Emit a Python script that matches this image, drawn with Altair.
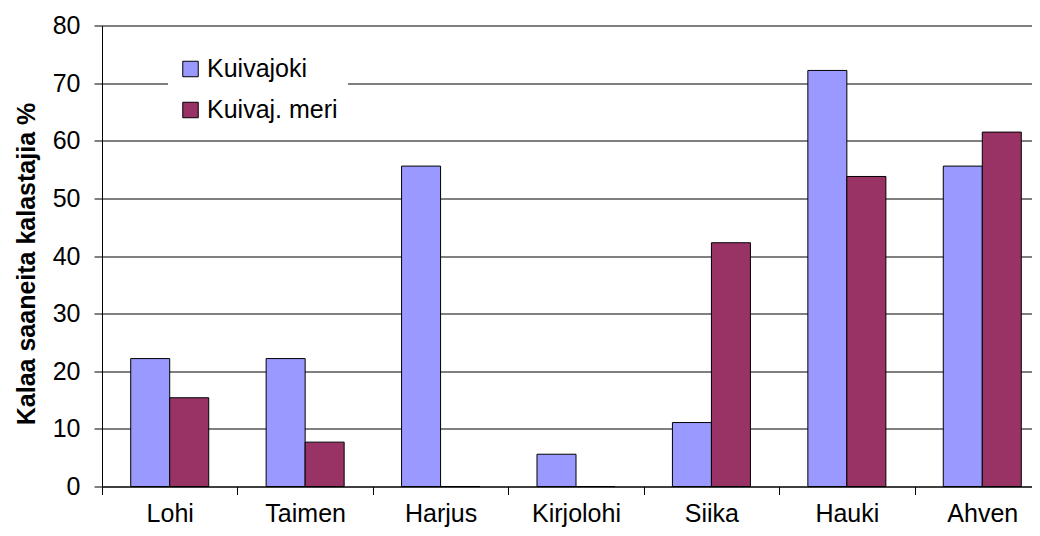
import altair as alt
import pandas as pd

categories = ["Lohi", "Taimen", "Harjus", "Kirjolohi", "Siika", "Hauki", "Ahven"]
series = ["Kuivajoki", "Kuivaj. meri"]
kuivajoki = [22.2, 22.2, 55.6, 5.6, 11.1, 72.2, 55.6]
kuivaj_meri = [15.4, 7.7, 0.0, 0.0, 42.3, 53.8, 61.5]
colors = ["#9999FF", "#993366"]
y_ticks = [0, 10, 20, 30, 40, 50, 60, 70, 80]

rows = []
for i, c in enumerate(categories):
    rows.append({"laji": c, "sarja": series[0], "arvo": kuivajoki[i]})
    rows.append({"laji": c, "sarja": series[1], "arvo": kuivaj_meri[i]})
df = pd.DataFrame(rows)

FONT = "Liberation Sans"

chart = alt.Chart(df).mark_bar(stroke="black", strokeWidth=1).encode(
    x=alt.X(
        "laji:N", sort=categories, title=None,
        scale=alt.Scale(paddingInner=0, paddingOuter=0, range=[0, 948]),
        axis=alt.Axis(
            tickBand="extent", labelAngle=0, labelFontSize=25, labelFont=FONT,
            labelColor="black", labelPadding=7, tickSize=8, tickColor="black",
            tickWidth=1, domainColor="black", domainWidth=1, grid=False,
        ),
    ),
    xOffset=alt.XOffset(
        "sarja:N", sort=series,
        scale=alt.Scale(paddingInner=0, paddingOuter=0.736),
    ),
    y=alt.Y(
        "arvo:Q", title="Kalaa saaneita kalastajia %",
        scale=alt.Scale(domain=[0, 80], nice=False, zero=True),
        axis=alt.Axis(
            values=y_ticks, labelFontSize=25, labelFont=FONT, labelColor="black",
            labelPadding=14, tickSize=8, tickColor="black", tickWidth=1,
            domainColor="black", domainWidth=1, grid=True, gridColor="black",
            gridWidth=1, titleFont=FONT, titleFontSize=25, titleFontWeight="bold",
            titleColor="black", titlePadding=13, titleY=238,
        ),
    ),
    color=alt.Color(
        "sarja:N", sort=series,
        scale=alt.Scale(domain=series, range=colors),
        legend=alt.Legend(
            title=None, orient="none", legendX=66, legendY=21, fillColor="white",
            padding=10, symbolType="square", symbolSize=240,
            symbolStrokeColor="black", symbolStrokeWidth=1, labelFontSize=25,
            labelFont=FONT, labelColor="black", rowPadding=15, labelOffset=4,
            symbolOpacity=1,
        ),
    ),
).properties(
    width=930,
    height=461,
    autosize=alt.AutoSizeParams(type="none"),
    padding={"left": 94, "top": 17.5, "right": 0, "bottom": 41},
).configure_view(stroke=None)

chart.save("out.html", embed_options={"renderer": "svg", "actions": False})
